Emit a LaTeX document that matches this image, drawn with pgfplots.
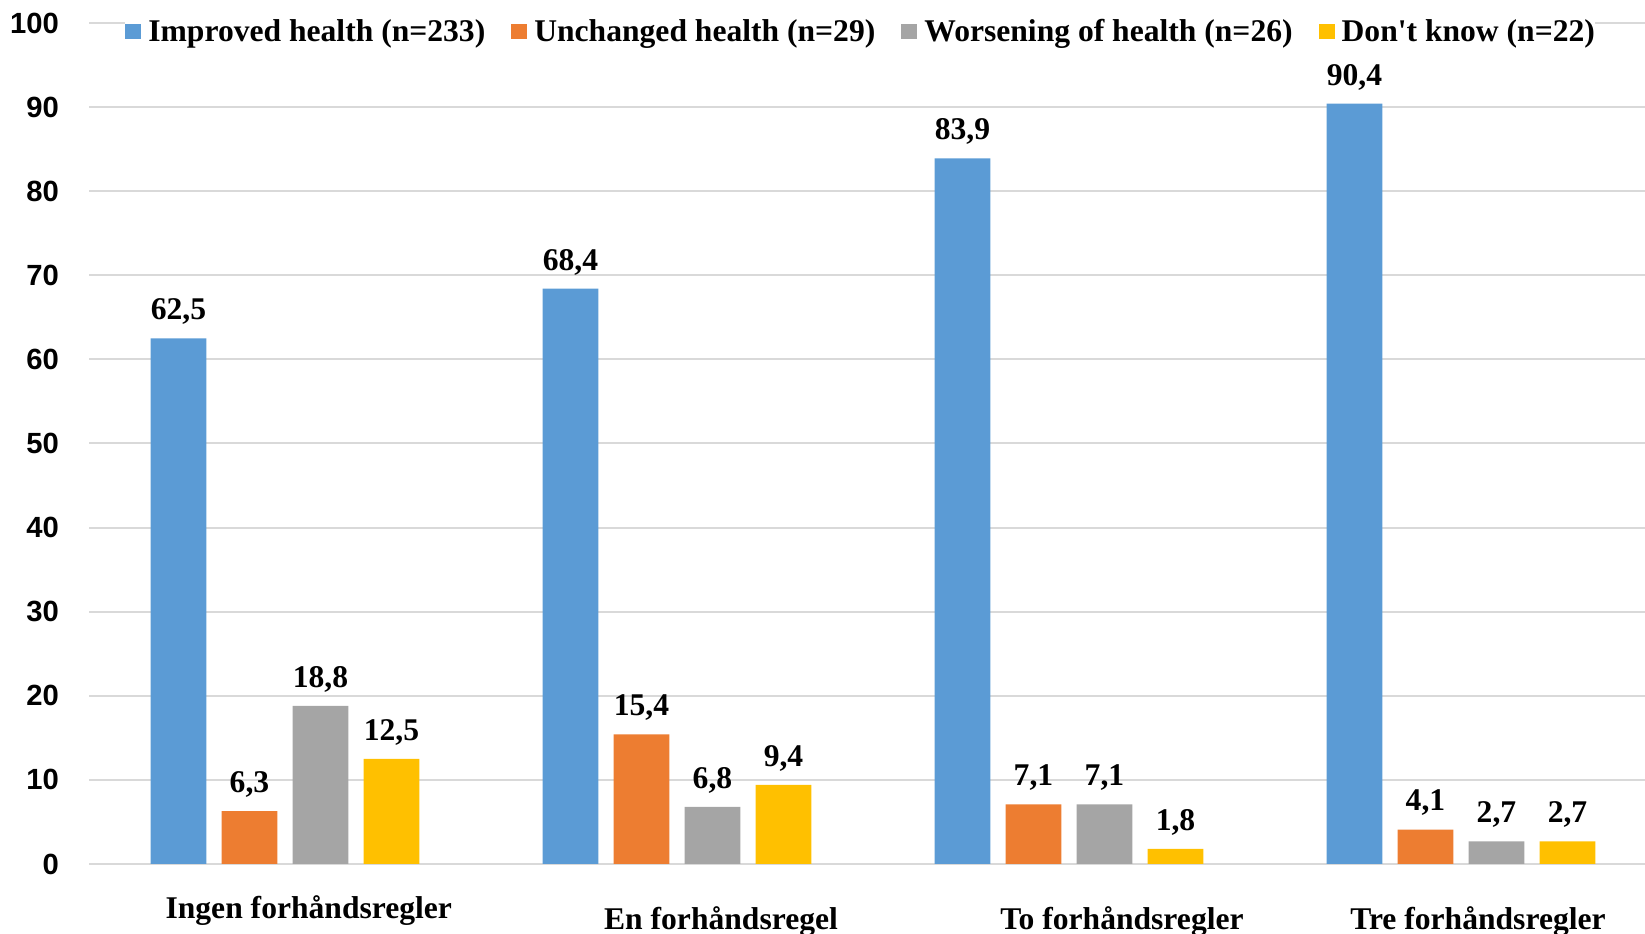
\documentclass[border=0pt]{standalone}
\usepackage{fontspec}
\setmainfont{Liberation Serif}
\newfontfamily\nomapserif{Liberation Serif}
\newfontfamily\tickfont{Liberation Sans}
\usepackage{pgfplots}
\pgfplotsset{compat=1.18}
\definecolor{cblue}{HTML}{5B9BD5}
\definecolor{corange}{HTML}{ED7D31}
\definecolor{cgray}{HTML}{A5A5A5}
\definecolor{cyellow}{HTML}{FFC000}
\definecolor{cgrid}{HTML}{D9D9D9}
\newcommand{\lbfont}{\bfseries\fontsize{15.8}{18}\selectfont}
\newcommand{\sq}{{\nomapserif\bfseries '}}
\begin{document}
\begin{tikzpicture}
\begin{axis}[
  name=ax,
  scale only axis,
  width=777.9pt, height=420.5pt,
  xmin=-0.2278, xmax=3.7411,
  ymin=0, ymax=100,
  ytick={0,10,...,100},
  xtick=\empty,
  axis line style={draw=none},
  major tick length=0pt,
  ymajorgrids,
  grid style={cgrid, line width=1pt},
  clip=false,
  /pgf/number format/assume math mode=true,
  yticklabel style={font=\tickfont\bfseries\fontsize{14.6}{16}\selectfont, inner sep=0pt, xshift=-15pt},
  ybar, bar shift=0pt, bar width=0.1421,
  nodes near coords,
  nodes near coords style={font=\lbfont, anchor=base, inner sep=0pt, yshift=9.3pt,
    /pgf/number format/.cd, fixed, fixed zerofill, precision=1, use comma, assume math mode=true},
  legend columns=4,
  legend image code/.code={\fill[#1] (0pt,-3.2pt) rectangle (8pt,4.3pt);},
  legend style={at={(0.023,0.989)}, anchor=west, draw=none, fill=white, inner sep=0pt,
    font=\lbfont, nodes={inner sep=0pt},
    /tikz/every odd column/.append style={column sep=3.5pt},
    /tikz/every even column/.append style={column sep=13pt}},
]
\addplot[fill=cblue, draw=none] coordinates {(0,62.5) (1,68.4) (2,83.9) (3,90.4)};
\addplot[fill=corange, draw=none] coordinates {(0.1811,6.3) (1.1811,15.4) (2.1811,7.1) (3.1811,4.1)};
\addplot[fill=cgray, draw=none] coordinates {(0.3622,18.8) (1.3622,6.8) (2.3622,7.1) (3.3622,2.7)};
\addplot[fill=cyellow, draw=none] coordinates {(0.5434,12.5) (1.5434,9.4) (2.5434,1.8) (3.5434,2.7)};
\legend{Improved health (n=233), Unchanged health (n=29), Worsening of health (n=26), Don\sq t know (n=22)}
\node[font=\lbfont, anchor=base, inner sep=0pt] at ([yshift=-27.2pt]axis cs:0.3324,0) {Ingen forhåndsregler};
\node[font=\lbfont, anchor=base, inner sep=0pt] at ([yshift=-32.75pt]axis cs:1.384,0) {En forhåndsregel};
\node[font=\lbfont, anchor=base, inner sep=0pt] at ([yshift=-32.75pt]axis cs:2.407,0) {To forhåndsregler};
\node[font=\lbfont, anchor=base, inner sep=0pt] at ([yshift=-32.75pt]axis cs:3.315,0) {Tre forhåndsregler};
\end{axis}
\pgfresetboundingbox
\path[use as bounding box] ([xshift=-44.6pt,yshift=-35pt]ax.south west) rectangle ([yshift=11.5pt]ax.north east);
\end{tikzpicture}
\end{document}
